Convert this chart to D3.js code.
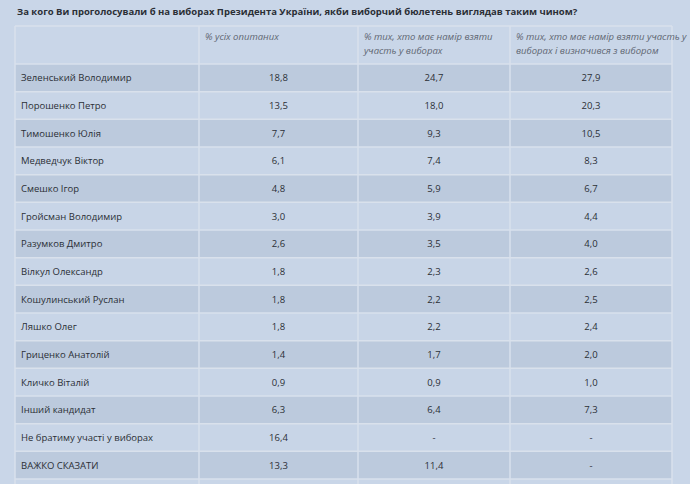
<!DOCTYPE html>
<html><head><meta charset="utf-8">
<script src="https://cdn.jsdelivr.net/npm/d3@7"></script>
<style>
body{margin:0;background:#c9d6e8;font-family:"Open Sans",sans-serif;}
</style></head>
<body>
<svg id="chart" width="690" height="484"></svg>
<script>
// Data
const title = 'За кого Ви проголосували б на виборах Президента України, якби виборчий бюлетень виглядав таким чином?';
const headers = [['% усіх опитаних'], ['% тих, хто має намір взяти', 'участь у виборах'], ['% тих, хто має намір взяти участь у', 'виборах і визначився з вибором']];
const candidates = ['Зеленський Володимир','Порошенко Петро','Тимошенко Юлія','Медведчук Віктор','Смешко Ігор','Гройсман Володимир','Разумков Дмитро','Вілкул Олександр','Кошулинський Руслан','Ляшко Олег','Гриценко Анатолій','Кличко Віталій','Інший кандидат','Не братиму участі у виборах','ВАЖКО СКАЗАТИ'];
const allRespondents = ['18,8','13,5','7,7','6,1','4,8','3,0','2,6','1,8','1,8','1,8','1,4','0,9','6,3','16,4','13,3'];
const willVote = ['24,7','18,0','9,3','7,4','5,9','3,9','3,5','2,3','2,2','2,2','1,7','0,9','6,4','-','11,4'];
const decided = ['27,9','20,3','10,5','8,3','6,7','4,4','4,0','2,6','2,5','2,4','2,0','1,0','7,3','-','-'];

const svg = d3.select('#chart');
const colEdges = [15, 199, 358, 510, 672];
const headTop = 26, headBottom = 64;
const y = d3.scaleBand().domain(candidates).range([headBottom, 479]);

svg.append('text').attr('x', 17).attr('y', 15)
   .style('font-size', '9.5px').style('font-weight', 'bold').style('fill', '#2b2f36')
   .text(title);

// row backgrounds
svg.selectAll('.row').data(candidates).enter().append('rect')
   .attr('x', colEdges[0]).attr('y', d => y(d))
   .attr('width', colEdges[4] - colEdges[0]).attr('height', y.bandwidth())
   .style('fill', (d, i) => i % 2 === 0 ? '#bccadd' : '#c8d5e7');

// grid lines
const hLines = [headTop, headBottom].concat(candidates.map(d => y(d) + y.bandwidth()));
svg.selectAll('.hl').data(hLines).enter().append('line')
   .attr('x1', colEdges[0]).attr('x2', colEdges[4]).attr('y1', d => d).attr('y2', d => d)
   .style('stroke', '#d9e1ec').style('stroke-width', 1.5);
svg.selectAll('.vl').data(colEdges).enter().append('line')
   .attr('x1', d => d).attr('x2', d => d).attr('y1', headTop).attr('y2', 484)
   .style('stroke', '#d9e1ec').style('stroke-width', 1.5);

// header
headers.forEach((lines, i) => {
  const t = svg.append('text').attr('x', colEdges[i + 1] + 6).attr('y', headTop + 14)
     .style('font-size', '9.5px').style('font-style', 'italic').style('fill', '#5f6672');
  lines.forEach((l, j) => t.append('tspan').attr('x', colEdges[i + 1] + 6).attr('dy', j ? 14 : 0).text(l));
});

// cells
svg.selectAll('.name').data(candidates).enter().append('text')
   .attr('x', colEdges[0] + 6).attr('y', d => y(d) + y.bandwidth() / 2 + 3.5)
   .style('font-size', '9.5px').style('fill', '#2b2f36').text(d => d);
[allRespondents, willVote, decided].forEach((col, c) => {
  svg.selectAll('.c' + c).data(col).enter().append('text')
     .attr('x', (colEdges[c + 1] + colEdges[c + 2]) / 2)
     .attr('y', (d, i) => y(candidates[i]) + y.bandwidth() / 2 + 3.5)
     .attr('text-anchor', 'middle')
     .style('font-size', '9.5px').style('fill', '#2b2f36').text(d => d);
});
</script>
</body></html>
